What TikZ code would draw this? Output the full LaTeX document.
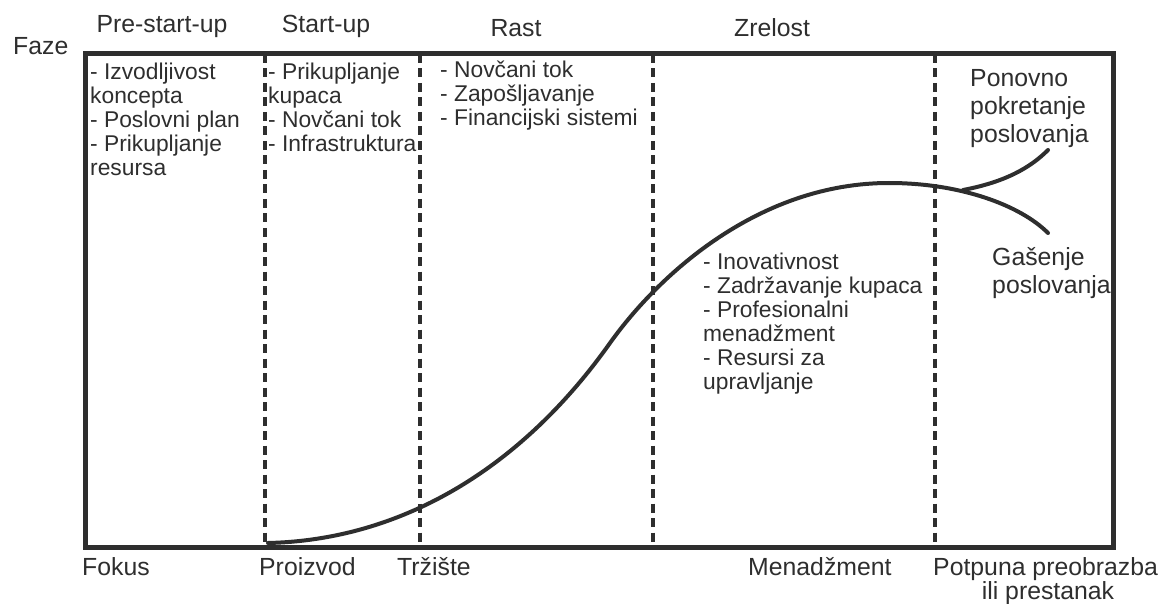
\documentclass[tikz,border=0pt]{standalone}
\usepackage{fontspec}
\setmainfont{Liberation Sans}
\definecolor{ink}{HTML}{2E2E2E}
\begin{document}
\begin{tikzpicture}[x=1pt,y=-1pt,
  txt/.style={inner sep=0pt,text=ink,font=\fontsize{22.8}{24}\selectfont,align=left},
  lbl/.style={inner sep=0pt,text=ink,font=\fontsize{24.8}{28}\selectfont},
  frame/.style={draw=ink,line width=5pt},
  sep/.style={draw=ink,line width=4.2pt,dash pattern=on 9pt off 5.5pt},
  curve/.style={draw=ink,line width=4pt,line cap=round}]
\useasboundingbox (0,0) rectangle (1167,604);
% frame
\coordinate (tl) at (85,54);
\coordinate (br) at (1113,547);
\draw[frame] (tl) rectangle (br);
% dashed separators
\foreach \n/\x in {a/265,b/420,c/653,d/935}{
  \coordinate (\n top) at (\x,54);
  \coordinate (\n bot) at (\x,547);
  \draw[sep] (\n top) -- (\n bot);
}
% headers
\node[lbl,anchor=base west] (faze) at (13,55) {Faze};
\node[lbl,anchor=base] (h1) at (162,33) {Pre-start-up};
\node[lbl,anchor=base] (h2) at (326,33) {Start-up};
\node[lbl,anchor=base] (h3) at (516,37) {Rast};
\node[lbl,anchor=base] (h4) at (772,37) {Zrelost};
% bottom labels
\node[lbl,anchor=base west] (f1) at (82,575) {Fokus};
\node[lbl,anchor=base west] (f2) at (259,575) {Proizvod};
\node[lbl,anchor=base west] (f3) at (397,575) {Tržište};
\node[lbl,anchor=base west] (f4) at (748,575) {Menadžment};
\node[lbl,anchor=base west] (f5) at (933,575) {Potpuna preobrazba};
\node[lbl,anchor=base] (f6) at (1048,599) {ili prestanak};
% lists
\node[txt,anchor=north west] (l1) at (90,63) {- Izvodljivost\\koncepta\\- Poslovni plan\\- Prikupljanje\\resursa};
\node[txt,anchor=north west] (l2) at (268,63) {- Prikupljanje\\kupaca\\- Novčani tok\\- Infrastruktura};
\node[txt,anchor=north west] (l3) at (440,61) {- Novčani tok\\- Zapošljavanje\\- Financijski sistemi};
\node[txt,anchor=north west] (l4) at (703,253) {- Inovativnost\\- Zadržavanje kupaca\\- Profesionalni\\menadžment\\- Resursi za\\upravljanje};
\node[lbl,anchor=north west,align=left] (re) at (970,69) {Ponovno\\pokretanje\\poslovanja};
\node[lbl,anchor=north west,align=left] (ga) at (992,247) {Gašenje\\poslovanja};
% curve
\coordinate (c0) at (268,543);
\coordinate (c1) at (610,343);
\coordinate (c2) at (889,183);
\coordinate (fork) at (963,190);
\coordinate (up) at (1048,150);
\coordinate (down) at (1048,233);
\draw[curve] (c0) .. controls (400,540) and (520,470) .. (c1)
  .. controls (660,273) and (760,183) .. (c2)
  .. controls (960,183) and (1020,205) .. (down);
\draw[curve] (fork) .. controls (1005,182) and (1030,168) .. (up);
\end{tikzpicture}
\end{document}
